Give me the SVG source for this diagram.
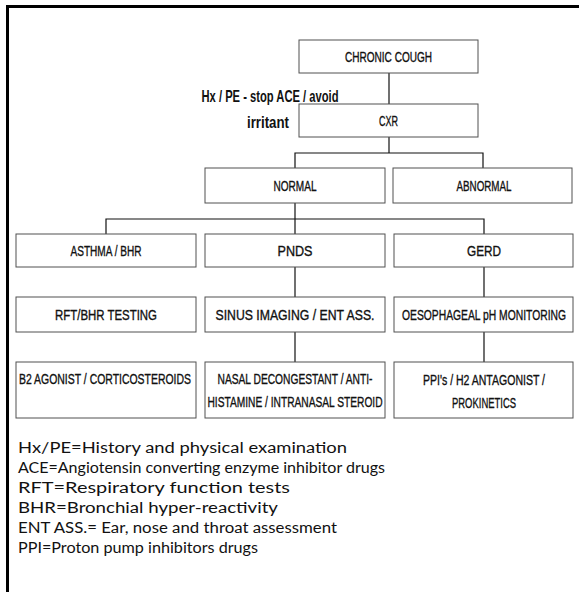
<svg xmlns="http://www.w3.org/2000/svg" width="579" height="592" viewBox="0 0 579 592">
<style>
.box{fill:#fff;stroke:#505050;stroke-width:1}
.lbl{font-family:"Liberation Sans Narrow","Liberation Sans",Arial,sans-serif;font-size:14.5px;fill:#111;stroke:#111;stroke-width:0.35;text-anchor:middle}
.note{font-family:"Liberation Sans Narrow","Liberation Sans",Arial,sans-serif;font-size:16.5px;font-weight:bold;fill:#111;text-anchor:middle}
.leg{font-family:Lato,"Noto Sans","Liberation Sans",sans-serif;font-size:15.5px;fill:#111}
.con{fill:none;stroke:#111;stroke-width:1.2}
</style>
<rect width="579" height="592" fill="#fff"/>
<path d="M7.5 592 V6.5 H579" fill="none" stroke="#000" stroke-width="3"/>

<g id="connectors">
<path class="con" d="M389 73 V104"/>
<path class="con" d="M389 137 V153"/>
<path class="con" d="M295 168 V153 H483 V168"/>
<path class="con" d="M295 203 V219"/>
<path class="con" d="M106 234 V219 H484 V234"/>
<path class="con" d="M295 219 V234"/>
<path class="con" d="M295 267 V297"/>
<path class="con" d="M295 332 V362"/>
<path class="con" d="M484 267 V297"/>
<path class="con" d="M484 332 V362"/>
</g>

<g id="chronic-cough"><rect class="box" x="299" y="40" width="179" height="33"/><text class="lbl" x="388.5" y="62" textLength="87" lengthAdjust="spacingAndGlyphs">CHRONIC COUGH</text></g>
<g id="cxr"><rect class="box" x="299" y="104" width="179" height="33"/><text class="lbl" x="388.5" y="126" textLength="19" lengthAdjust="spacingAndGlyphs">CXR</text></g>
<g id="cxr-note"><text class="note" x="270" y="102" textLength="137" lengthAdjust="spacingAndGlyphs">Hx / PE - stop ACE / avoid</text><text class="note" x="268" y="128" textLength="42" lengthAdjust="spacingAndGlyphs">irritant</text></g>
<g id="normal"><rect class="box" x="205" y="168" width="180" height="35"/><text class="lbl" x="295" y="191" textLength="43" lengthAdjust="spacingAndGlyphs">NORMAL</text></g>
<g id="abnormal"><rect class="box" x="393" y="168" width="179" height="35"/><text class="lbl" x="484" y="191" textLength="55" lengthAdjust="spacingAndGlyphs">ABNORMAL</text></g>
<g id="asthma"><rect class="box" x="16" y="234" width="180" height="33"/><text class="lbl" x="106" y="256" textLength="71" lengthAdjust="spacingAndGlyphs">ASTHMA / BHR</text></g>
<g id="pnds"><rect class="box" x="205" y="234" width="180" height="33"/><text class="lbl" x="295" y="256" textLength="35" lengthAdjust="spacingAndGlyphs">PNDS</text></g>
<g id="gerd"><rect class="box" x="394" y="234" width="179" height="33"/><text class="lbl" x="484" y="256" textLength="34" lengthAdjust="spacingAndGlyphs">GERD</text></g>
<g id="rft"><rect class="box" x="16" y="297" width="180" height="35"/><text class="lbl" x="106" y="320" textLength="102" lengthAdjust="spacingAndGlyphs">RFT/BHR TESTING</text></g>
<g id="sinus"><rect class="box" x="205" y="297" width="180" height="35"/><text class="lbl" x="295" y="320" textLength="159" lengthAdjust="spacingAndGlyphs">SINUS IMAGING / ENT ASS.</text></g>
<g id="oesophageal"><rect class="box" x="394" y="297" width="179" height="35"/><text class="lbl" x="484" y="320" textLength="164" lengthAdjust="spacingAndGlyphs">OESOPHAGEAL pH MONITORING</text></g>
<g id="b2"><rect class="box" x="16" y="362" width="180" height="56"/><text class="lbl" x="105" y="384" textLength="172" lengthAdjust="spacingAndGlyphs">B2 AGONIST / CORTICOSTEROIDS</text></g>
<g id="nasal"><rect class="box" x="205" y="362" width="180" height="56"/><text class="lbl" x="295" y="384" textLength="155" lengthAdjust="spacingAndGlyphs">NASAL DECONGESTANT / ANTI-</text><text class="lbl" x="295" y="407" textLength="175" lengthAdjust="spacingAndGlyphs">HISTAMINE / INTRANASAL STEROID</text></g>
<g id="ppi"><rect class="box" x="394" y="362" width="179" height="56"/><text class="lbl" x="484" y="385" textLength="122" lengthAdjust="spacingAndGlyphs">PPI's / H2 ANTAGONIST /</text><text class="lbl" x="484" y="408" textLength="64" lengthAdjust="spacingAndGlyphs">PROKINETICS</text></g>

<g id="legend">
<text class="leg" x="18" y="453" textLength="329" lengthAdjust="spacingAndGlyphs">Hx/PE=History and physical examination</text>
<text class="leg" x="18" y="473" textLength="367" lengthAdjust="spacingAndGlyphs">ACE=Angiotensin converting enzyme inhibitor drugs</text>
<text class="leg" x="18" y="493" textLength="272" lengthAdjust="spacingAndGlyphs">RFT=Respiratory function tests</text>
<text class="leg" x="18" y="513" textLength="260" lengthAdjust="spacingAndGlyphs">BHR=Bronchial hyper-reactivity</text>
<text class="leg" x="18" y="533" textLength="319" lengthAdjust="spacingAndGlyphs">ENT ASS.= Ear, nose and throat assessment</text>
<text class="leg" x="18" y="553" textLength="240" lengthAdjust="spacingAndGlyphs">PPI=Proton pump inhibitors drugs</text>
</g>
</svg>
